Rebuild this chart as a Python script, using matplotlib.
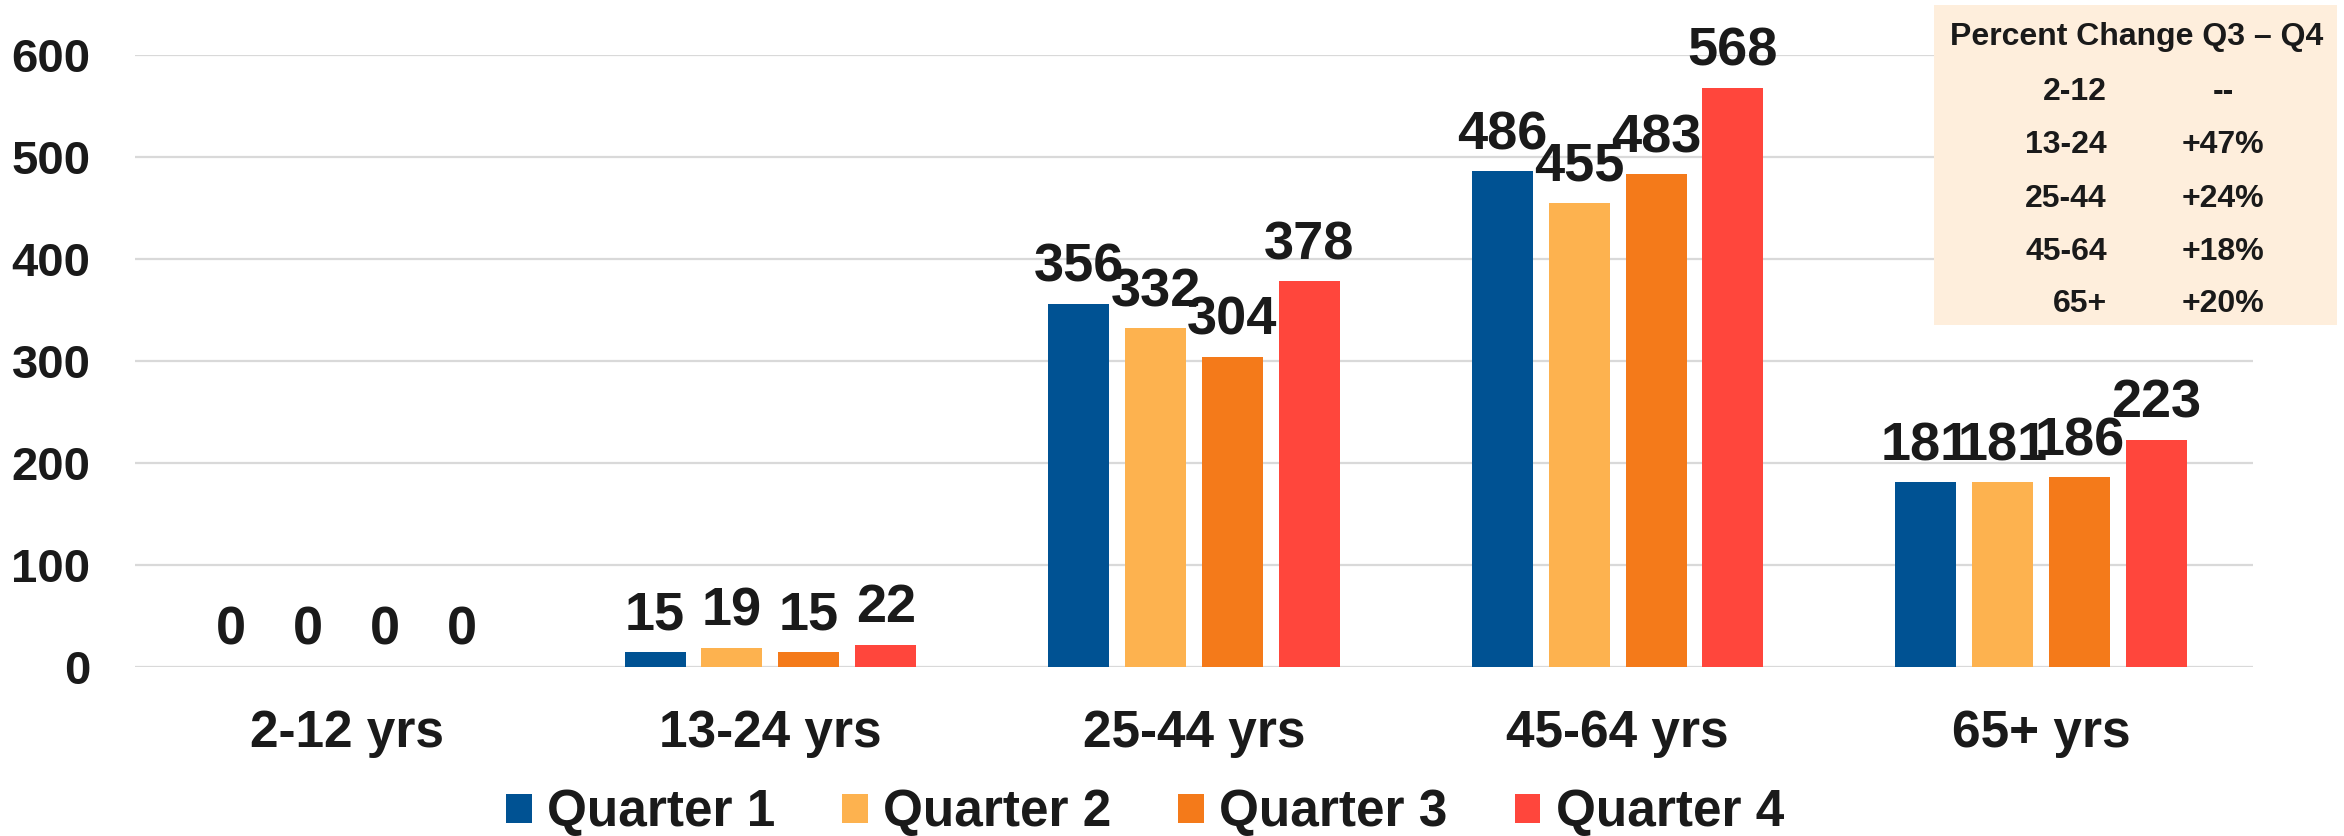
import numpy as np
import matplotlib.pyplot as plt
from matplotlib.patches import Rectangle

plt.rcParams['font.family'] = ['Liberation Sans', 'DejaVu Sans']
plt.rcParams['font.weight'] = 'bold'

# data
categories = ['2-12 yrs', '13-24 yrs', '25-44 yrs', '45-64 yrs', '65+ yrs']
series_names = ['Quarter 1', 'Quarter 2', 'Quarter 3', 'Quarter 4']
q1 = [0, 15, 356, 486, 181]
q2 = [0, 19, 332, 455, 181]
q3 = [0, 15, 304, 483, 186]
q4 = [0, 22, 378, 568, 223]
colors = ['#005293', '#FDB24F', '#F47A1A', '#FF463C']

table_title = 'Percent Change Q3 \u2013 Q4'
table_groups = ['2-12', '13-24', '25-44', '45-64', '65+']
table_changes = ['--', '+47%', '+24%', '+18%', '+20%']

W, H = 2344, 836
fig = plt.figure(figsize=(W / 100, H / 100), dpi=100)
ax = fig.add_axes([135 / W, 1 - 667 / H, (2253 - 135) / W, (667 - 55) / H])

x = np.arange(len(categories))
width = 0.144
step = 0.1816
txt = '#1a1a1a'

for i, vals in enumerate([q1, q2, q3, q4]):
    pos = x + (i - 1.5) * step
    bars = ax.bar(pos, vals, width, color=colors[i], label=series_names[i], zorder=2)
    for b, v in zip(bars, vals):
        ax.annotate(str(v), (b.get_x() + b.get_width() / 2, v),
                    xytext=(0, 8), textcoords='offset points',
                    ha='center', va='bottom', fontsize=39,
                    fontweight='bold', color=txt, zorder=5)

ax.set_xlim(-0.5, len(categories) - 0.5)
ax.set_ylim(0, 600)
ax.set_yticks(np.arange(0, 601, 100))
ax.set_xticks(x)
ax.set_xticklabels(categories)
ax.tick_params(axis='y', length=0, pad=32, labelsize=34, labelcolor=txt)
ax.tick_params(axis='x', length=0, pad=30, labelsize=37, labelcolor=txt)
ax.grid(axis='y', color='#D9D9D9', linewidth=1.6, zorder=0)
ax.set_axisbelow(True)
for s in ax.spines.values():
    s.set_visible(False)

fig.legend(loc='center', bbox_to_anchor=(1145 / W, 1 - 813 / H), ncol=4,
           frameon=False, fontsize=37, handlelength=0.5, handleheight=0.5,
           handletextpad=0.3, columnspacing=1.3, labelcolor=txt)

# percent change box
fig.add_artist(Rectangle((1934 / W, 1 - 325 / H), 403 / W, 320 / H,
                         transform=fig.transFigure, facecolor='#FEEEDC',
                         edgecolor='none', zorder=6))
fig.text(2137 / W, 1 - 45 / H, table_title, ha='center', va='baseline',
         fontsize=23, fontweight='bold', color=txt, zorder=7)
row_base = [100, 153, 207, 260, 312]
for g, c, yb in zip(table_groups, table_changes, row_base):
    fig.text(2107 / W, 1 - yb / H, g, ha='right', va='baseline',
             fontsize=23, fontweight='bold', color=txt, zorder=7)
    fig.text(2223 / W, 1 - yb / H, c, ha='center', va='baseline',
             fontsize=23, fontweight='bold', color=txt, zorder=7)

fig.savefig('out.png', dpi=100)
